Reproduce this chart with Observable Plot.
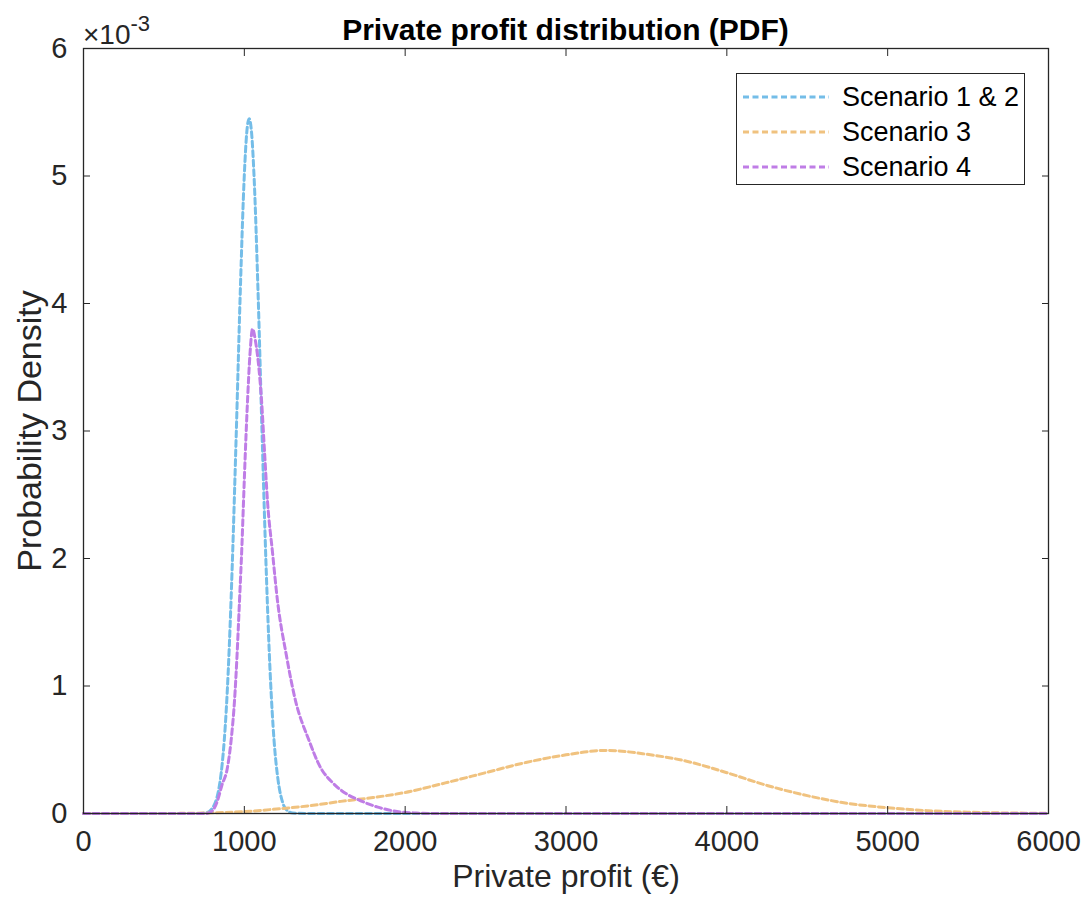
<!DOCTYPE html>
<html>
<head>
<meta charset="utf-8">
<script src="https://cdn.jsdelivr.net/npm/d3@7"></script>
<script src="https://cdn.jsdelivr.net/npm/@observablehq/plot@0.6"></script>
<style>
  body { margin: 0; background: #fff; font-family: "Liberation Sans", Arial, Helvetica, sans-serif; }
  #wrap { position: relative; width: 1086px; height: 907px; overflow: hidden; }
  #chart { position: absolute; left: 0; top: 0; }
  #title { position: absolute; left: 83px; width: 965px; top: 14px; line-height: 32px; text-align: center; font-weight: bold; font-size: 30px; color: #000; }
  #exp { position: absolute; left: 83px; top: 12px; font-size: 28px; line-height: 30px; color: #262626; }
  #exp sup { font-size: 22px; position: relative; top: -3px; }
  #legend { position: absolute; left: 736px; top: 73px; width: 289px; height: 112px; border: 1.5px solid #262626; background: #fff; box-sizing: border-box; }
  .row { position: absolute; left: 6px; height: 34px; display: flex; align-items: center; font-size: 27px; color: #000; }
  .row svg { margin-right: 13px; }
</style>
</head>
<body>
<div id="wrap">
  <div id="chart"></div>
  <div id="title">Private profit distribution (PDF)</div>
  <div id="exp">×10<sup>-3</sup></div>
  <div id="legend"></div>
</div>
<script>
// Axis ticks
const xTicks = [0, 1000, 2000, 3000, 4000, 5000, 6000];
const yTicks = [0, 1, 2, 3, 4, 5, 6]; // density in units of 10^-3

// Series names and colours
const seriesNames = ["Scenario 1 & 2", "Scenario 3", "Scenario 4"];
const seriesColors = ["#74bde8", "#f0c27f", "#bf7de6"];

// Scenario 1 & 2 (density ×10^-3)
const s12Profit  = [0, 700, 760, 800, 850, 900, 925, 950, 975, 1000, 1015, 1030, 1045, 1060, 1085, 1110, 1135, 1160, 1185, 1210, 1240, 1270, 1300, 1400, 2000, 6000];
const s12Density = [0, 0, 0.005, 0.04, 0.26, 1.12, 1.95, 2.99, 4.10, 5.01, 5.34, 5.45, 5.34, 5.01, 4.10, 2.99, 1.95, 1.12, 0.57, 0.26, 0.08, 0.02, 0.004, 0, 0, 0];

// Scenario 3
const s3Profit  = [0, 600, 800, 1000, 1200, 1400, 1600, 1800, 2000, 2250, 2500, 2750, 3000, 3250, 3500, 3750, 4000, 4250, 4500, 4750, 5000, 5250, 5500, 5750, 6000];
const s3Density = [0, 0.001, 0.005, 0.015, 0.035, 0.06, 0.095, 0.125, 0.165, 0.24, 0.32, 0.40, 0.46, 0.495, 0.465, 0.41, 0.32, 0.22, 0.14, 0.08, 0.045, 0.022, 0.01, 0.004, 0.002];

// Scenario 4
const s4Profit  = [0, 760, 800, 833, 860, 895, 920, 939, 955, 970, 985, 995, 1010, 1020, 1035, 1051, 1070, 1090, 1107, 1125, 1144, 1175, 1206, 1260, 1318, 1400, 1474, 1550, 1640, 1723, 1830, 1928, 2050, 2200, 6000];
const s4Density = [0, 0, 0.02, 0.10, 0.22, 0.36, 0.6, 0.886, 1.25, 1.67, 2.1, 2.45, 2.95, 3.24, 3.6, 3.80, 3.7, 3.5, 3.24, 2.85, 2.45, 2.05, 1.67, 1.25, 0.886, 0.58, 0.36, 0.24, 0.15, 0.10, 0.05, 0.02, 0.005, 0, 0];

const toRows = (xs, ys, name) => xs.map((x, i) => ({profit: x, density: ys[i], series: name}));
const data12 = toRows(s12Profit, s12Density, seriesNames[0]);
const data3 = toRows(s3Profit, s3Density, seriesNames[1]);
const data4 = toRows(s4Profit, s4Density, seriesNames[2]);

const dash = "6,3.5";
const lineOpts = {x: "profit", y: "density", stroke: "series", strokeWidth: 3, strokeDasharray: dash, curve: "monotone-x"};
const axisColor = "#262626";

const chart = Plot.plot({
  width: 1086,
  height: 907,
  marginLeft: 83,
  marginRight: 38,
  marginTop: 48,
  marginBottom: 94,
  style: {fontFamily: '"Liberation Sans", Arial, Helvetica, sans-serif', background: "transparent", color: axisColor},
  x: {domain: [0, 6000]},
  y: {domain: [0, 6]},
  color: {domain: seriesNames, range: seriesColors},
  marks: [
    Plot.line(data12, lineOpts),
    Plot.line(data3, lineOpts),
    Plot.line(data4, lineOpts),
    Plot.frame({stroke: axisColor, strokeWidth: 1.3}),
    // tick labels
    Plot.axisX(xTicks, {anchor: "bottom", tickSize: 0, tickPadding: 17, fontSize: 29, label: null, tickFormat: d => String(d)}),
    Plot.axisY(yTicks, {anchor: "left", tickSize: 0, tickPadding: 16, fontSize: 29, label: null, tickFormat: d => String(d)}),
    // inward tick marks on all four sides
    Plot.axisX(xTicks, {anchor: "bottom", tickSize: -7, tickFormat: () => "", label: null, stroke: axisColor}),
    Plot.axisX(xTicks, {anchor: "top", tickSize: -7, tickFormat: () => "", label: null, stroke: axisColor}),
    Plot.axisY(yTicks, {anchor: "left", tickSize: -7, tickFormat: () => "", label: null, stroke: axisColor}),
    Plot.axisY(yTicks, {anchor: "right", tickSize: -7, tickFormat: () => "", label: null, stroke: axisColor}),
    // axis titles
    Plot.text(["Private profit (€)"], {frameAnchor: "bottom", textAnchor: "middle", dy: 73, fontSize: 32, fill: axisColor}),
    Plot.text(["Probability Density"], {frameAnchor: "left", textAnchor: "middle", dx: -53, rotate: -90, fontSize: 34, fill: axisColor})
  ]
});
document.getElementById("chart").appendChild(chart);

// Legend
const legend = document.getElementById("legend");
seriesNames.forEach((name, i) => {
  const row = document.createElement("div");
  row.className = "row";
  row.style.top = (6 + i * 35) + "px";
  row.innerHTML = `<svg width="86" height="8"><line x1="0" y1="4" x2="86" y2="4" stroke="${seriesColors[i]}" stroke-width="3" stroke-dasharray="${dash}"/></svg><span>${name.replace("&", "&amp;")}</span>`;
  legend.appendChild(row);
});
</script>
</body>
</html>
